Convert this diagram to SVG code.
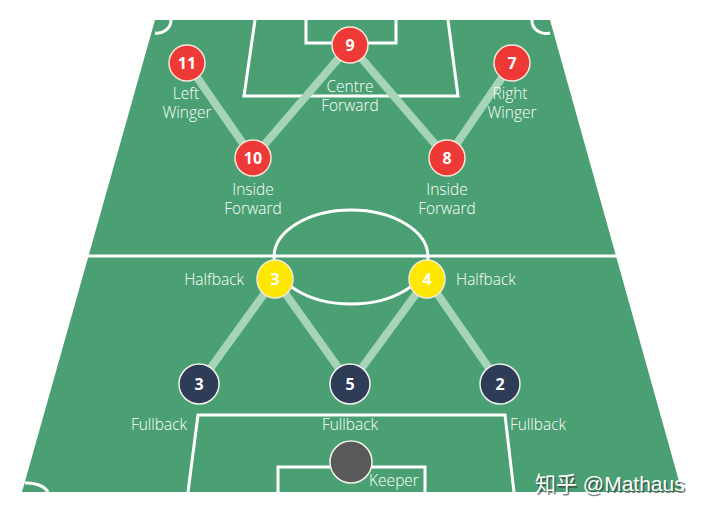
<svg xmlns="http://www.w3.org/2000/svg" width="701" height="512" viewBox="0 0 701 512">
<style>
.line{fill:none;stroke:#ffffff;stroke-width:3}
.conn{stroke:#A6D4B8;stroke-width:8;stroke-linecap:butt}
.lbl{font-family:"Open Sans","Liberation Sans",sans-serif;font-size:15.5px;fill:#ffffff;text-anchor:middle;font-weight:300}
.num{font-family:"Open Sans","Liberation Sans",sans-serif;font-size:16px;font-weight:bold;fill:#ffffff;text-anchor:middle}
.red{fill:#EE3A36;stroke:#F6E7DA;stroke-width:1.5}
.yel{fill:#FFE800;stroke:#F6E7DA;stroke-width:1.5}
.navy{fill:#2F3C58;stroke:#F3F1EA;stroke-width:1.5}
</style>
<rect width="701" height="512" fill="#ffffff"/>
<g id="pitch">
<polygon points="155,20 550,20 682,492 22,492" fill="#4AA073"/>
<line class="line" x1="85" y1="256" x2="620" y2="256"/>
<path class="line" d="M155,33 A14,13 0 0 0 171,20"/>
<path class="line" d="M550,33 A14,13 0 0 1 532,20"/>
<path class="line" d="M25,483 A22,14 0 0 1 48,492"/>
<polyline class="line" points="255,20 244,96 458,96 448,20"/>
<polyline class="line" points="306,20 306,43 396,43 396,20"/>
<ellipse class="line" cx="351" cy="257" rx="77" ry="47"/>
<polyline class="line" points="188,492 198,415 505,415 514,492"/>
<polyline class="line" points="278,492 278,467 425,467 425,492"/>
</g>
<g id="connectors">
<line class="conn" x1="187" y1="63" x2="253" y2="158"/>
<line class="conn" x1="253" y1="158" x2="350" y2="45"/>
<line class="conn" x1="350" y1="45" x2="447" y2="158"/>
<line class="conn" x1="447" y1="158" x2="512" y2="63"/>
<line class="conn" x1="275" y1="279" x2="199" y2="384"/>
<line class="conn" x1="275" y1="279" x2="350" y2="384"/>
<line class="conn" x1="427" y1="279" x2="350" y2="384"/>
<line class="conn" x1="427" y1="279" x2="500" y2="384"/>
</g>
<g id="n11"><circle class="red" cx="187" cy="63" r="18"/><text class="num" x="187" y="69">11</text><text class="lbl" x="186" y="99">Left</text><text class="lbl" x="187" y="118">Winger</text></g>
<g id="n9"><circle class="red" cx="350" cy="45" r="18"/><text class="num" x="350" y="51">9</text><text class="lbl" x="350" y="92">Centre</text><text class="lbl" x="350" y="111">Forward</text></g>
<g id="n7"><circle class="red" cx="512" cy="63" r="18"/><text class="num" x="512" y="69">7</text><text class="lbl" x="510" y="99">Right</text><text class="lbl" x="512" y="118">Winger</text></g>
<g id="n10"><circle class="red" cx="253" cy="158" r="18"/><text class="num" x="253" y="164">10</text><text class="lbl" x="253" y="195">Inside</text><text class="lbl" x="253" y="214">Forward</text></g>
<g id="n8"><circle class="red" cx="447" cy="158" r="18"/><text class="num" x="447" y="164">8</text><text class="lbl" x="447" y="195">Inside</text><text class="lbl" x="447" y="214">Forward</text></g>
<g id="h3"><ellipse class="yel" cx="275" cy="279" rx="18" ry="19"/><text class="num" x="275" y="285">3</text><text class="lbl" x="244" y="285" style="text-anchor:end">Halfback</text></g>
<g id="h4"><ellipse class="yel" cx="427" cy="279" rx="18" ry="19"/><text class="num" x="427" y="285">4</text><text class="lbl" x="456" y="285" style="text-anchor:start">Halfback</text></g>
<g id="f3"><ellipse class="navy" cx="199" cy="384" rx="20" ry="20"/><text class="num" x="199" y="390">3</text><text class="lbl" x="159" y="430">Fullback</text></g>
<g id="f5"><ellipse class="navy" cx="350" cy="384" rx="20" ry="20"/><text class="num" x="350" y="390">5</text><text class="lbl" x="350" y="430">Fullback</text></g>
<g id="f2"><ellipse class="navy" cx="500" cy="384" rx="20" ry="20"/><text class="num" x="500" y="390">2</text><text class="lbl" x="538" y="430">Fullback</text></g>
<g id="keeper"><circle cx="351" cy="462" r="21" fill="#595959" stroke="#F3F1EA" stroke-width="1.5"/><text class="lbl" x="394" y="486">Keeper</text></g>
<g id="watermark">
<text x="535" y="491" font-family="'Liberation Sans','Noto Sans CJK SC',sans-serif" font-size="21" fill="#333333" opacity="0.6" transform="translate(1.5,1.5)">知乎 @Mathaus</text>
<text x="535" y="491" font-family="'Liberation Sans','Noto Sans CJK SC',sans-serif" font-size="21" fill="#ffffff">知乎 @Mathaus</text>
</g>
</svg>
